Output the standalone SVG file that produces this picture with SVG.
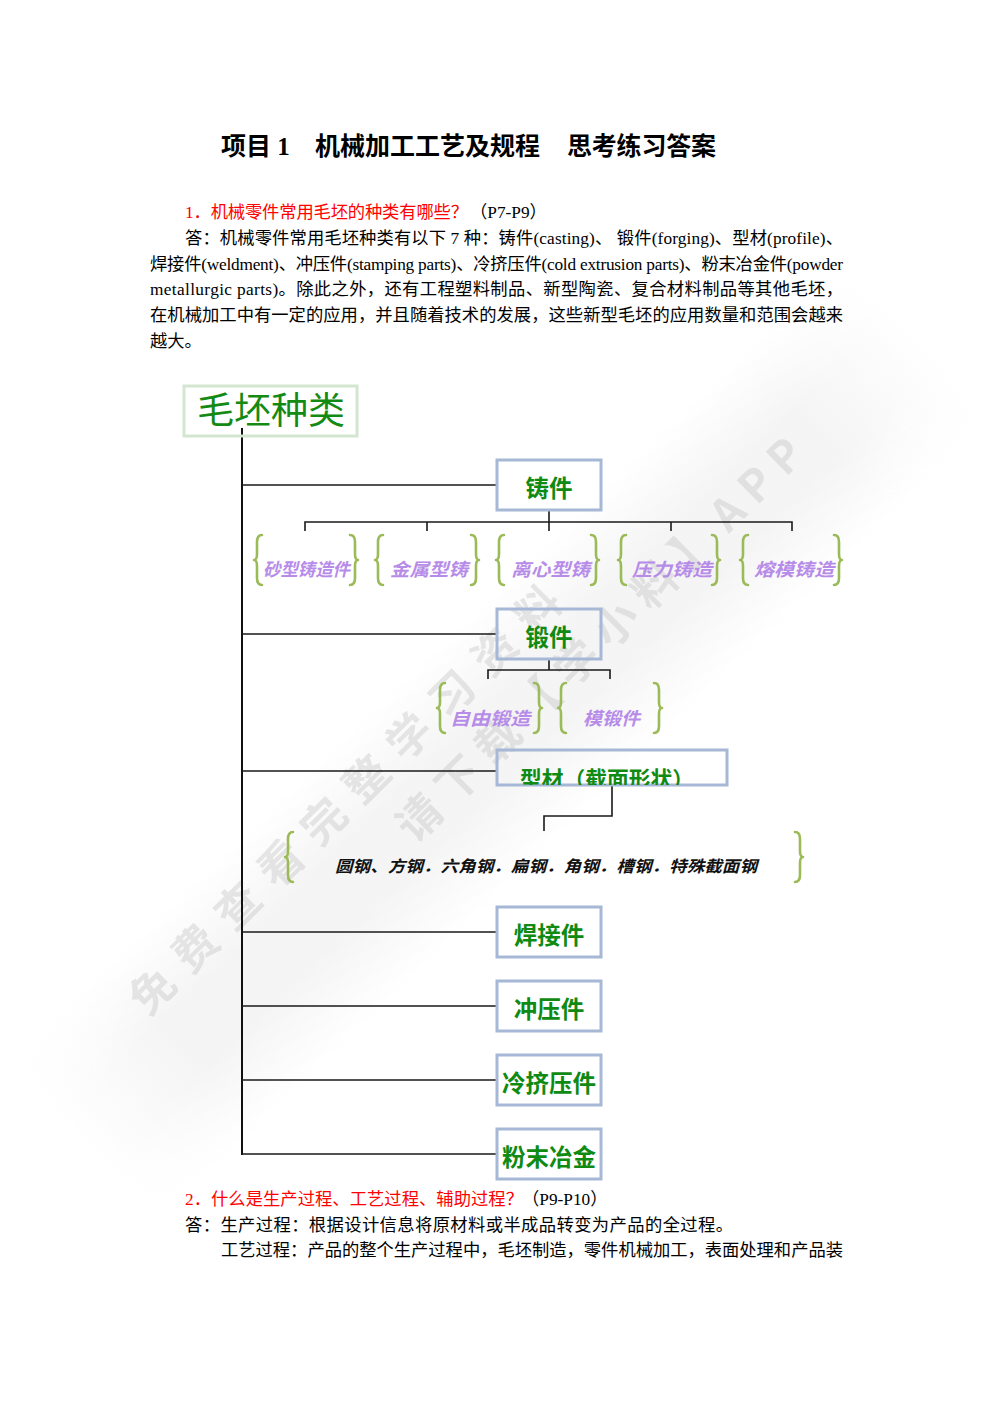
<svg xmlns="http://www.w3.org/2000/svg" width="993" height="1404" viewBox="0 0 993 1404">
<defs>
<style>
.body{font-family:"Liberation Serif","Noto Sans CJK SC",serif;font-size:17.3px;fill:#000}
.red{fill:#f00}
.title{font-family:"Liberation Serif","Noto Sans CJK SC",serif;font-size:25px;font-weight:bold;fill:#000}
.box{fill:none;stroke:#a6b8d6;stroke-width:3}
.root{fill:none;stroke:#d4e6d0;stroke-width:3}
.lbl{font-family:"Noto Sans CJK SC",sans-serif;font-weight:bold;font-size:23.5px;fill:#0f8a12;text-anchor:middle}
.sub{font-family:"Noto Sans CJK SC",sans-serif;font-weight:bold;font-style:italic;font-size:18px;fill:#b78ce9}
.steel{font-family:"Noto Sans CJK SC",sans-serif;font-weight:bold;font-style:italic;font-size:16px;fill:#111}
.brace{fill:none;stroke:#9bbb59;stroke-width:2.6;stroke-linecap:round;stroke-linejoin:round}
.conn{stroke:#1a1a1a;stroke-width:1.6;fill:none}
.trunk{stroke:#111;stroke-width:2;fill:none}
.wm{font-family:"Noto Sans CJK SC",sans-serif;font-weight:bold;font-size:44px;fill:#bdbdbd;opacity:0.35}
</style>
<path id="lb" class="brace" d="M8,0 Q3,0 3,7 L3,19 Q3,25 0,25 Q3,25 3,31 L3,43 Q3,50 8,50"/>
<path id="rb" class="brace" d="M0,0 Q5,0 5,7 L5,19 Q5,25 8,25 Q5,25 5,31 L5,43 Q5,50 0,50"/>
<linearGradient id="bandGrad" x1="0" y1="0" x2="0" y2="1">
<stop offset="0" stop-color="#e8e8e8" stop-opacity="0"/>
<stop offset="0.35" stop-color="#e8e8e8" stop-opacity="0.45"/>
<stop offset="0.65" stop-color="#e8e8e8" stop-opacity="0.45"/>
<stop offset="1" stop-color="#e8e8e8" stop-opacity="0"/>
</linearGradient>
<linearGradient id="bandFade" x1="0" y1="0" x2="1" y2="0">
<stop offset="0" stop-color="#fff" stop-opacity="0"/>
<stop offset="0.12" stop-color="#fff" stop-opacity="1"/>
<stop offset="0.88" stop-color="#fff" stop-opacity="1"/>
<stop offset="1" stop-color="#fff" stop-opacity="0"/>
</linearGradient>
<mask id="bandMask" maskContentUnits="userSpaceOnUse">
<rect x="-580" y="-110" width="1160" height="220" fill="url(#bandFade)"/>
</mask>
<clipPath id="clipXC"><rect x="497" y="750" width="230" height="35"/></clipPath>
</defs>
<rect width="993" height="1404" fill="#fff"/>

<g id="watermark">
<g transform="translate(500,740) rotate(-44)">
<rect x="-580" y="-110" width="1160" height="220" fill="url(#bandGrad)" mask="url(#bandMask)"/>
</g>
<text class="wm" x="-293" y="16" textLength="586" lengthAdjust="spacing" transform="translate(345,800) rotate(-44.7)">免费查看完整学习资料</text>
<text class="wm" x="-23" y="16" textLength="551" lengthAdjust="spacing" transform="translate(420,817) rotate(-44.7)">请下载【学小料】APP</text>
</g>

<g id="page-text">
<text class="title" x="221" y="155">项目 1</text>
<text class="title" x="315" y="155" textLength="225" lengthAdjust="spacing">机械加工工艺及规程</text>
<text class="title" x="567" y="155" textLength="149" lengthAdjust="spacing">思考练习答案</text>

<text class="body red" x="185" y="218" textLength="283" lengthAdjust="spacing">1．机械零件常用毛坯的种类有哪些？</text>
<text class="body" x="470" y="218">（P7-P9）</text>
<text class="body" x="185" y="244" textLength="658" lengthAdjust="spacing">答：机械零件常用毛坯种类有以下 7 种：铸件(casting)、 锻件(forging)、型材(profile)、</text>
<text class="body" x="150" y="270" textLength="693" lengthAdjust="spacing">焊接件(weldment)、冲压件(stamping parts)、冷挤压件(cold extrusion parts)、粉末冶金件(powder</text>
<text class="body" x="150" y="295" textLength="693" lengthAdjust="spacing">metallurgic  parts)。除此之外，还有工程塑料制品、新型陶瓷、复合材料制品等其他毛坯，</text>
<text class="body" x="150" y="321" textLength="693" lengthAdjust="spacing">在机械加工中有一定的应用，并且随着技术的发展，这些新型毛坯的应用数量和范围会越来</text>
<text class="body" x="150" y="347">越大。</text>

<text class="body red" x="185" y="1205" textLength="338" lengthAdjust="spacing">2．什么是生产过程、工艺过程、辅助过程？</text>
<text class="body" x="522" y="1205">（P9-P10）</text>
<text class="body" x="185" y="1231" textLength="548" lengthAdjust="spacing">答：生产过程：根据设计信息将原材料或半成品转变为产品的全过程。</text>
<text class="body" x="221" y="1256" textLength="622" lengthAdjust="spacing">工艺过程：产品的整个生产过程中，毛坯制造，零件机械加工，表面处理和产品装</text>
</g>

<g id="connectors">
<path class="trunk" d="M242,428 V1155"/>
<path class="conn" d="M242,485 H497 M242,634 H497 M242,771 H497 M242,932 H497 M242,1006 H497 M242,1080 H497 M242,1154 H497"/>
<path class="conn" d="M549,511 V531 M305,531 V522 H792 V531 M427,522 V531 M671,522 V531"/>
<path class="conn" d="M549,659 V670 M488,679 V670 H610 V679"/>
<path class="conn" d="M612,785 V816 H544 V831"/>
</g>

<g id="root">
<rect class="root" x="184" y="386" width="173" height="50"/>
<text x="197" y="424" textLength="148" lengthAdjust="spacingAndGlyphs" style="font-family:'Noto Sans CJK SC',sans-serif;font-size:37px;fill:#138a13">毛坯种类</text>
</g>

<g id="casting">
<rect class="box" x="497" y="460" width="104" height="50"/>
<text class="lbl" x="549" y="497">铸件</text>
</g>
<g id="casting-children">
<use href="#lb" x="254" y="535"/><text class="sub" x="263" y="576" textLength="87" lengthAdjust="spacingAndGlyphs">砂型铸造件</text><use href="#rb" x="350" y="535"/>
<use href="#lb" x="375" y="535"/><text class="sub" x="390" y="576" textLength="78" lengthAdjust="spacingAndGlyphs">金属型铸</text><use href="#rb" x="471" y="535"/>
<use href="#lb" x="496" y="535"/><text class="sub" x="511" y="576" textLength="79" lengthAdjust="spacingAndGlyphs">离心型铸</text><use href="#rb" x="591" y="535"/>
<use href="#lb" x="618" y="535"/><text class="sub" x="632" y="576" textLength="80" lengthAdjust="spacingAndGlyphs">压力铸造</text><use href="#rb" x="712" y="535"/>
<use href="#lb" x="740" y="535"/><text class="sub" x="754" y="576" textLength="80" lengthAdjust="spacingAndGlyphs">熔模铸造</text><use href="#rb" x="834" y="535"/>
</g>

<g id="forging">
<rect class="box" x="497" y="609" width="104" height="50"/>
<text class="lbl" x="549" y="646">锻件</text>
</g>
<g id="forging-children">
<use href="#lb" x="437" y="683"/><text class="sub" x="450" y="725" textLength="80" lengthAdjust="spacingAndGlyphs">自由锻造</text><use href="#rb" x="534" y="683"/>
<use href="#lb" x="558" y="683"/><text class="sub" x="583" y="725" textLength="57" lengthAdjust="spacingAndGlyphs">模锻件</text><use href="#rb" x="654" y="683"/>
</g>

<g id="profile">
<rect class="box" x="497" y="750" width="230" height="35"/>
<text class="lbl" x="520" y="787" textLength="174" lengthAdjust="spacingAndGlyphs" style="text-anchor:start;font-size:22px" clip-path="url(#clipXC)">型材（截面形状）</text>
</g>
<g id="profile-children">
<use href="#lb" x="285" y="832"/>
<text class="steel" x="335" y="872" textLength="422" lengthAdjust="spacingAndGlyphs">圆钢、方钢．六角钢．扁钢．角钢．槽钢．特殊截面钢</text>
<use href="#rb" x="795" y="832"/>
</g>

<g id="weldment">
<rect class="box" x="497" y="907" width="104" height="50"/>
<text class="lbl" x="549" y="944">焊接件</text>
</g>
<g id="stamping">
<rect class="box" x="497" y="981" width="104" height="50"/>
<text class="lbl" x="549" y="1018">冲压件</text>
</g>
<g id="extrusion">
<rect class="box" x="497" y="1055" width="104" height="50"/>
<text class="lbl" x="549" y="1092">冷挤压件</text>
</g>
<g id="powder">
<rect class="box" x="497" y="1129" width="104" height="50"/>
<text class="lbl" x="549" y="1166">粉末冶金</text>
</g>
</svg>
